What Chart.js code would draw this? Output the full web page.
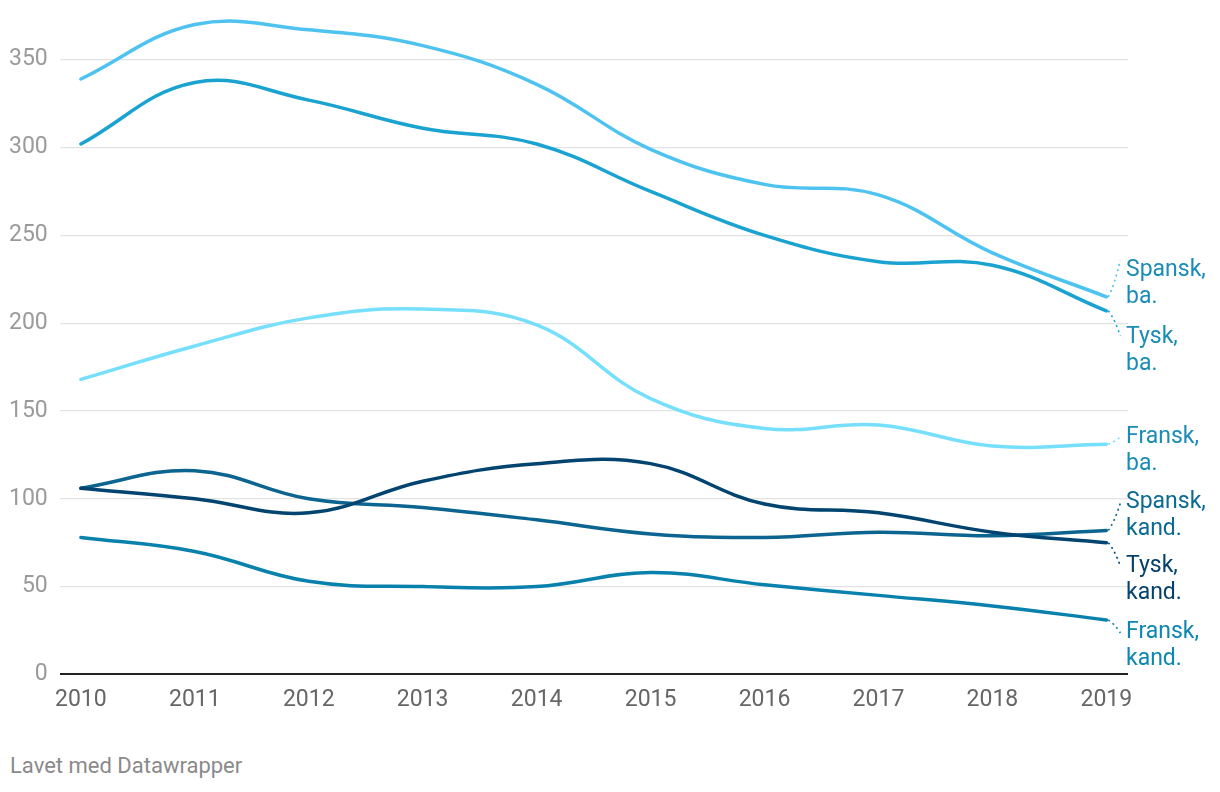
<!DOCTYPE html>
<html>
<head>
<meta charset="utf-8">
<script src="https://cdn.jsdelivr.net/npm/chart.js@4.4.1/dist/chart.umd.min.js"></script>
<style>
    html, body { margin: 0; padding: 0; background: #fff; overflow: hidden; }
    body { width: 1220px; height: 792px; position: relative; font-family: Roboto, "Noto Sans", sans-serif; }
    .chart-box { position: absolute; left: -13px; top: -10px; width: 1233px; height: 728px; }
    .credit { position: absolute; left: 10px; top: 753px; font-size: 22px; color: #8a8a8a; }
</style>
</head>
<body>
<div class="chart-box"><canvas id="chart"></canvas></div>
<div class="credit">Lavet med Datawrapper</div>
<script>
// årstal og værdier
const years = [2010, 2011, 2012, 2013, 2014, 2015, 2016, 2017, 2018, 2019];
const yTicks = [0, 50, 100, 150, 200, 250, 300, 350];

const spanskBa   = [339, 370, 367, 358, 336, 299, 279, 273, 240, 215];
const tyskBa     = [302, 337, 327, 311, 302, 275, 250, 235, 233, 207];
const franskBa   = [168, 187, 203, 208, 199, 157, 140, 142, 130, 131];
const spanskKand = [106, 116, 100, 95, 88, 80, 78, 81, 79, 82];
const tyskKand   = [106, 100, 92, 110, 120, 120, 97, 92, 81, 75];
const franskKand = [78, 70, 53, 50, 50, 58, 51, 45, 39, 31];

const seriesNames = [
    ['Spansk,', 'ba.'], ['Tysk,', 'ba.'], ['Fransk,', 'ba.'],
    ['Spansk,', 'kand.'], ['Tysk,', 'kand.'], ['Fransk,', 'kand.']
];
const seriesValues = [spanskBa, tyskBa, franskBa, spanskKand, tyskKand, franskKand];
const lineColors = ['#4fc3f0', '#1aa3d1', '#76dffb', '#0b6590', '#01446f', '#0881ad'];
const textColors = ['#1a8cb6', '#1a8cb6', '#1a8cb6', '#0b6a94', '#04416b', '#0b87b1'];
// placering af etiketter (første linjes midte, i sidens koordinater) og hvor stiplet linje ender
const labelY = [270, 337, 437, 502, 566, 632];
const leaderEndY = [260, 336, 437, 503, 566, 633];
const boxTop = -10, boxLeft = -13;

const datasets = seriesValues.map((vals, i) => ({
    label: seriesNames[i].join(' '),
    data: vals.map((v, j) => ({ x: years[j], y: v })),
    borderColor: lineColors[i],
    borderWidth: 3.5,
    pointRadius: 0,
    tension: 0.4,
    fill: false,
    borderCapStyle: 'round'
}));
// mørkeste linjer øverst ligesom i originalen
const order = [2, 0, 1, 5, 3, 4];
order.forEach((idx, k) => { datasets[idx].order = 10 - k; });

const endLabels = {
    id: 'endLabels',
    afterDatasetsDraw(chart) {
        const ctx = chart.ctx;
        const xs = chart.scales.x;
        const ys = chart.scales.y;
        seriesValues.forEach((vals, i) => {
            const px = xs.getPixelForValue(years[years.length - 1]);
            const py = ys.getPixelForValue(vals[vals.length - 1]);
            const ey = leaderEndY[i] - boxTop;
            ctx.save();
            ctx.strokeStyle = lineColors[i];
            ctx.lineWidth = 1.6;
            ctx.setLineDash([2, 3.5]);
            ctx.beginPath();
            ctx.moveTo(px + 2, py);
            ctx.quadraticCurveTo(px + 8, py + (ey - py) * 0.3, px + 14, ey);
            ctx.stroke();
            ctx.restore();

            ctx.save();
            ctx.fillStyle = textColors[i];
            ctx.font = '23px Roboto, "Noto Sans", sans-serif';
            ctx.textBaseline = 'middle';
            ctx.textAlign = 'left';
            ctx.fillText(seriesNames[i][0], 1126 - boxLeft, labelY[i] - boxTop);
            ctx.fillText(seriesNames[i][1], 1126 - boxLeft, labelY[i] + 27 - boxTop);
            ctx.restore();
        });
    }
};

new Chart(document.getElementById('chart'), {
    type: 'line',
    data: { datasets },
    options: {
        responsive: true,
        maintainAspectRatio: false,
        animation: false,
        layout: { padding: { left: 10, right: 92, top: 4, bottom: 0 } },
        plugins: { legend: { display: false }, tooltip: { enabled: false } },
        scales: {
            x: {
                type: 'linear',
                min: 2009.815,
                max: 2019.19,
                afterBuildTicks: (scale) => { scale.ticks = years.map(v => ({ value: v })); },
                grid: { display: false },
                border: { display: false },
                ticks: {
                    color: '#666',
                    font: { size: 23, family: 'Roboto' },
                    padding: 4,
                    maxRotation: 0,
                    autoSkip: false,
                    callback: (v) => String(v)
                }
            },
            y: {
                min: 0,
                max: 375,
                afterBuildTicks: (scale) => { scale.ticks = yTicks.map(v => ({ value: v })); },
                grid: {
                    color: (c) => c.tick && c.tick.value === 0 ? '#222' : '#e3e3e3',
                    lineWidth: (c) => c.tick && c.tick.value === 0 ? 2 : 1.2,
                    drawTicks: false
                },
                border: { display: false },
                ticks: {
                    color: '#9a9a9a',
                    font: { size: 23, family: 'Roboto' },
                    padding: 12
                }
            }
        }
    },
    plugins: [endLabels]
});
</script>
</body>
</html>
